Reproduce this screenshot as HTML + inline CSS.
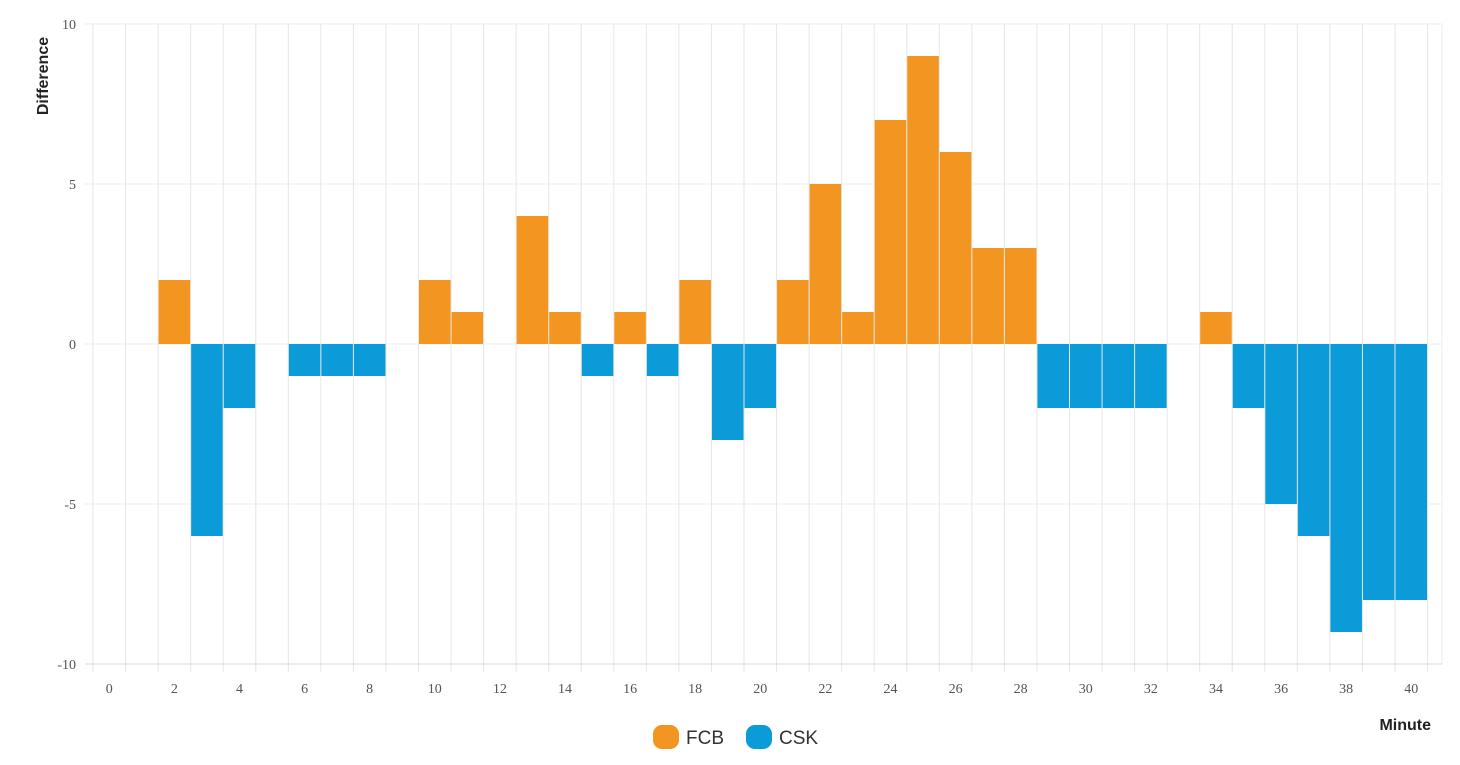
<!DOCTYPE html>
<html><head><meta charset="utf-8"><style>
body{margin:0;background:#fff;width:1460px;height:765px;overflow:hidden}
svg{display:block}
</style></head><body>
<svg id="chart" width="1460" height="765" xmlns="http://www.w3.org/2000/svg"></svg>
<script>
const minutes=[0,1,2,3,4,5,6,7,8,9,10,11,12,13,14,15,16,17,18,19,20,21,22,23,24,25,26,27,28,29,30,31,32,33,34,35,36,37,38,39,40];
const diffs=[0,0,2,-6,-2,0,-1,-1,-1,0,2,1,0,4,1,-1,1,-1,2,-3,-2,2,5,1,7,9,6,3,3,-2,-2,-2,-2,0,1,-2,-5,-6,-9,-8,-8];
const yTicks=[-10,-5,0,5,10];
const seriesNames=["FCB","CSK"];
const colors=["#F39621","#0A9BD8"];

const svg=document.getElementById('chart');
const NS="http://www.w3.org/2000/svg";
const L=93,R=1442,T=24,B=664;
const band=32.55;
const xBand=i=>L+i*band;
const y=v=>T+(10-v)*(B-T)/20;
function el(t,a,p){const e=document.createElementNS(NS,t);for(const k in a)e.setAttribute(k,a[k]);(p||svg).appendChild(e);return e;}

const grid=el('g',{});


for(let i=0;i<=minutes.length;i++){
  el('line',{x1:xBand(i),x2:xBand(i),y1:T,y2:B+8,stroke:'#e6e6e6','stroke-width':1},grid);
}
el('line',{x1:R,x2:R,y1:T,y2:B,stroke:'#eeeeee','stroke-width':1},grid);
yTicks.forEach(t=>{
  el('line',{x1:L-8,x2:R,y1:y(t),y2:y(t),stroke:t===-10?'#d8d8d8':'#ececec','stroke-width':1},grid);
  const tx=el('text',{x:L-17,y:y(t)+5,'text-anchor':'end','font-family':'Liberation Serif, serif','font-size':14,fill:'#555'});
  tx.textContent=t;
  
  
});
const bars=el('g',{});


minutes.forEach((m,i)=>{
  const v=diffs[i];
  if(v!==0){
    const r=el('rect',{x:xBand(i)+0.5,width:band-1,y:Math.min(y(v),y(0)),height:Math.abs(y(v)-y(0)),fill:v>0?colors[0]:colors[1]},bars);
    
    
  }
  if(m%2===0){
    const tx=el('text',{x:xBand(i)+band/2,y:B+29,'text-anchor':'middle','font-family':'Liberation Serif, serif','font-size':14,fill:'#555'});
    tx.textContent=m;
    
    
  }
});
const yt=el('text',{x:0,y:0,transform:'translate(48,76) rotate(-90)','text-anchor':'middle','font-family':'Liberation Sans, sans-serif','font-size':16,'font-weight':'bold',fill:'#222'});
yt.textContent='Difference';


const xt=el('text',{x:1431,y:730,'text-anchor':'end','font-family':'Liberation Sans, sans-serif','font-size':16,'font-weight':'bold',fill:'#222'});
xt.textContent='Minute';


const lx=[653,746];
seriesNames.forEach((n,i)=>{
  const g=el('g',{});
  
  
  el('rect',{x:lx[i],y:725,width:26,height:24,rx:9,fill:colors[i]},g);
  const t=el('text',{x:lx[i]+33,y:744,'font-family':'Liberation Sans, sans-serif','font-size':19,fill:'#333'},g);
  t.textContent=n;
});
</script>
</body></html>
